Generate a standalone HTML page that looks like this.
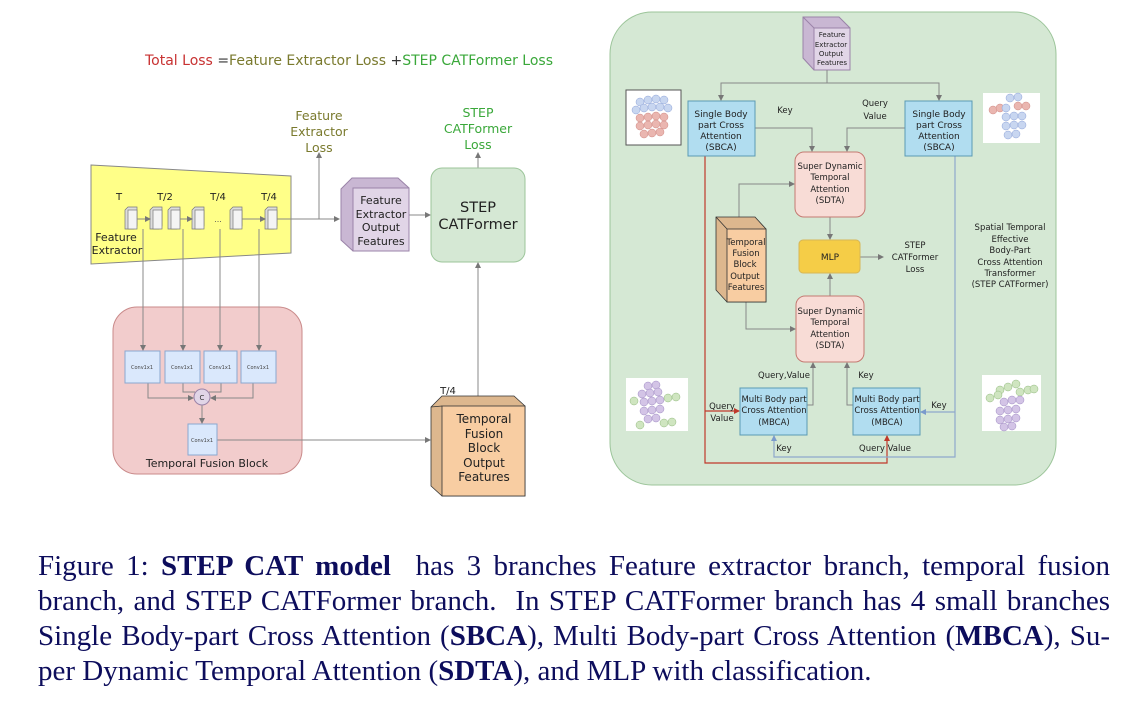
<!DOCTYPE html>
<html><head><meta charset="utf-8"><style>
html,body{margin:0;padding:0;background:#fff;width:1132px;height:716px;overflow:hidden}
svg{position:absolute;left:0;top:0}
svg text{font-family:"DejaVu Sans","Liberation Sans",sans-serif}
.cap{position:absolute;left:38px;width:1072px;font-family:"Liberation Serif",serif;font-size:29px;color:#0d0d5c;line-height:35px;white-space:nowrap}
.j{text-align:justify;text-align-last:justify}
</style></head><body>
<svg width="1132" height="716" viewBox="0 0 1132 716">
<defs>
<marker id="a" markerWidth="6" markerHeight="6" refX="5" refY="3" orient="auto" markerUnits="userSpaceOnUse"><path d="M0,0 L6,3 L0,6 z" fill="#777"/></marker>
<marker id="ar" markerWidth="6" markerHeight="6" refX="5" refY="3" orient="auto" markerUnits="userSpaceOnUse"><path d="M0,0 L6,3 L0,6 z" fill="#c0392b"/></marker>
<marker id="ab" markerWidth="6" markerHeight="6" refX="5" refY="3" orient="auto" markerUnits="userSpaceOnUse"><path d="M0,0 L6,3 L0,6 z" fill="#7a9acc"/></marker>
<g id="cube"><path d="M0,3 L3,0 L12,0 L12,19 L9,22 L0,22 z" fill="#ddd" stroke="#777" stroke-width="0.7"/><rect x="3" y="3" width="9" height="19" fill="#f4f4f4" stroke="#777" stroke-width="0.7"/></g>
</defs>

<text x="145" y="65" font-size="14"><tspan fill="#c83232">Total Loss </tspan><tspan fill="#333">=</tspan><tspan fill="#7a7a2e">Feature Extractor Loss </tspan><tspan fill="#333">+</tspan><tspan fill="#3aa83a">STEP CATFormer Loss</tspan></text>

<path d="M91,165 L291,176 L291,253 L91,264 z" fill="#ffff88" stroke="#888" stroke-width="1"/>
<g font-size="10" fill="#222" text-anchor="middle">
<text x="119" y="200">T</text><text x="165" y="200">T/2</text><text x="218" y="200">T/4</text><text x="269" y="200">T/4</text>
</g>
<text x="116" y="241" font-size="11" fill="#222" text-anchor="middle">Feature</text>
<text x="117" y="254" font-size="11" fill="#222" text-anchor="middle">Extractor</text>
<use href="#cube" x="125" y="207"/><use href="#cube" x="150" y="207"/><use href="#cube" x="168" y="207"/><use href="#cube" x="192" y="207"/><use href="#cube" x="230" y="207"/><use href="#cube" x="265" y="207"/>
<text x="218" y="222" font-size="8" fill="#555" text-anchor="middle">...</text>
<g stroke="#888" stroke-width="1" fill="none">
<path d="M137,219 L150,219" marker-end="url(#a)"/><path d="M180,219 L192,219" marker-end="url(#a)"/><path d="M242,219 L265,219" marker-end="url(#a)"/>
<path d="M277,219 L339,219" marker-end="url(#a)"/>
<path d="M319,219 L319,153" marker-end="url(#a)"/>
<path d="M409,215 L430,215" marker-end="url(#a)"/>
<path d="M478,168 L478,153" marker-end="url(#a)"/>
</g>
<g font-size="12.5" fill="#7a7a2e" text-anchor="middle"><text x="319" y="120">Feature</text><text x="319" y="136">Extractor</text><text x="319" y="152">Loss</text></g>
<g font-size="12.5" fill="#3aa83a" text-anchor="middle"><text x="478" y="117">STEP</text><text x="478" y="133">CATFormer</text><text x="478" y="149">Loss</text></g>

<path d="M341,189 L352,178 L398,178 L409,188 L409,251 L353,251 L341,240 z" fill="#c9b7d3" stroke="#9a83a8"/>
<rect x="353" y="188" width="56" height="63" fill="#e1d5e7" stroke="#9a83a8"/>
<g font-size="11" fill="#222" text-anchor="middle"><text x="381" y="204">Feature</text><text x="381" y="218">Extractor</text><text x="381" y="231">Output</text><text x="381" y="245">Features</text></g>

<rect x="431" y="168" width="94" height="94" rx="11" fill="#d5e8d4" stroke="#9cc59a"/>
<text x="478" y="212" font-size="14.5" fill="#222" text-anchor="middle">STEP</text>
<text x="478" y="229" font-size="14.5" fill="#222" text-anchor="middle">CATFormer</text>

<rect x="113" y="307" width="189" height="167" rx="24" fill="#f2cccc" stroke="#c98a8a"/>
<g stroke="#888" stroke-width="1" fill="none">
<path d="M143,229 L143,350" marker-end="url(#a)"/><path d="M183,229 L183,350" marker-end="url(#a)"/><path d="M220,229 L220,350" marker-end="url(#a)"/><path d="M259,229 L259,350" marker-end="url(#a)"/>
<path d="M148,383 L148,398 L193,398" marker-end="url(#a)"/><path d="M183,383 L183,392 L195,392"/><path d="M221,383 L221,392 L209,392"/><path d="M253,383 L253,398 L211,398" marker-end="url(#a)"/>
<path d="M202,405 L202,423" marker-end="url(#a)"/>
<path d="M217,440 L430,440" marker-end="url(#a)"/>
<path d="M478,396 L478,263" marker-end="url(#a)"/>
</g>
<g fill="#dae8fc" stroke="#8aa8d0"><rect x="125" y="351" width="35" height="32"/><rect x="165" y="351" width="35" height="32"/><rect x="204" y="351" width="33" height="32"/><rect x="241" y="351" width="35" height="32"/><rect x="188" y="424" width="29" height="31"/></g>
<g font-size="5" fill="#444" text-anchor="middle"><text x="142" y="369">Conv1x1</text><text x="182" y="369">Conv1x1</text><text x="220" y="369">Conv1x1</text><text x="258" y="369">Conv1x1</text><text x="202" y="442">Conv1x1</text></g>
<circle cx="202" cy="397" r="8" fill="#e1d5e7" stroke="#9a83a8"/><text x="202" y="400" font-size="7" text-anchor="middle" fill="#333">C</text>
<text x="207" y="467" font-size="11" fill="#222" text-anchor="middle">Temporal Fusion Block</text>

<path d="M431,407 L442,396 L514,396 L525,406 L525,496 L442,496 L431,486 z" fill="#ddb78e" stroke="#333" stroke-width="0.8"/>
<rect x="442" y="406" width="83" height="90" fill="#f8cda2" stroke="#333" stroke-width="0.8"/>
<path d="M431,407 L442,406" stroke="#333" stroke-width="0.8"/>
<text x="448" y="394" font-size="10" fill="#222" text-anchor="middle">T/4</text>
<g font-size="12" fill="#222" text-anchor="middle"><text x="484" y="423">Temporal</text><text x="484" y="438">Fusion</text><text x="484" y="452">Block</text><text x="484" y="467">Output</text><text x="484" y="481">Features</text></g>

<rect x="610" y="12" width="446" height="473" rx="42" fill="#d5e8d4" stroke="#9cc59a"/>
<path d="M803,17 L839,17 L850,28 L850,70 L814,70 L803,58 z" fill="#c9b7d3" stroke="#9a83a8"/>
<rect x="814" y="28" width="36" height="42" fill="#e1d5e7" stroke="#9a83a8"/>
<path d="M803,17 L814,28" stroke="#9a83a8"/>
<g font-size="7" fill="#222" text-anchor="middle"><text x="832" y="37">Feature</text><text x="831" y="47">Extractor</text><text x="831" y="56">Output</text><text x="832" y="65">Features</text></g>

<g stroke="#888" stroke-width="1" fill="none">
<path d="M827,70 L827,83 L721,83 L721,100" marker-end="url(#a)"/>
<path d="M827,83 L939,83 L939,100" marker-end="url(#a)"/>
<path d="M755,128 L812,128 L812,151" marker-end="url(#a)"/>
<path d="M905,128 L847,128 L847,151" marker-end="url(#a)"/>
<path d="M830,217 L830,239" marker-end="url(#a)"/>
<path d="M860,257 L883,257" marker-end="url(#a)"/>
<path d="M739,217 L739,184 L794,184" marker-end="url(#a)"/>
<path d="M746,302 L746,329 L795,329" marker-end="url(#a)"/>
<path d="M830,296 L830,274" marker-end="url(#a)"/>
<path d="M807,405 L813,405 L813,363" marker-end="url(#a)"/>
<path d="M853,405 L847,405 L847,363" marker-end="url(#a)"/>
</g>
<g stroke="#c0392b" stroke-width="1.2" fill="none">
<path d="M705,156 L705,463 L887,463 L887,436" marker-end="url(#ar)"/>
<path d="M705,411 L739,411" marker-end="url(#ar)"/>
</g>
<g stroke="#8fa8cc" stroke-width="1.2" fill="none">
<path d="M955,156 L955,457 L774,457 L774,436" marker-end="url(#ab)"/>
<path d="M955,412 L921,412" marker-end="url(#ab)"/>
</g>

<g fill="#b1ddf0" stroke="#5a9ab4"><rect x="688" y="101" width="67" height="55"/><rect x="905" y="101" width="67" height="55"/></g>
<g font-size="9" fill="#222" text-anchor="middle"><text x="721" y="117">Single Body</text><text x="721" y="128">part Cross</text><text x="721" y="139">Attention</text><text x="721" y="150">(SBCA)</text>
<text x="939" y="117">Single Body</text><text x="939" y="128">part Cross</text><text x="939" y="139">Attention</text><text x="939" y="150">(SBCA)</text></g>
<g fill="#f8dcd6" stroke="#c47a72"><rect x="795" y="152" width="70" height="65" rx="9"/><rect x="796" y="296" width="68" height="66" rx="9"/></g>
<g font-size="8.5" fill="#222" text-anchor="middle"><text x="830" y="169">Super Dynamic</text><text x="830" y="180">Temporal</text><text x="830" y="192">Attention</text><text x="830" y="203">(SDTA)</text>
<text x="830" y="314">Super Dynamic</text><text x="830" y="325">Temporal</text><text x="830" y="337">Attention</text><text x="830" y="348">(SDTA)</text></g>
<rect x="799" y="240" width="61" height="33" rx="4" fill="#f5cd47" stroke="#d6b656"/>
<text x="830" y="260" font-size="9" fill="#222" text-anchor="middle">MLP</text>
<g font-size="8.5" fill="#222" text-anchor="middle"><text x="915" y="248">STEP</text><text x="915" y="260">CATFormer</text><text x="915" y="272">Loss</text></g>
<path d="M716,217 L755,217 L766,229 L766,302 L727,302 L716,290 z" fill="#ddb78e" stroke="#333" stroke-width="0.8"/>
<rect x="727" y="229" width="39" height="73" fill="#f8cda2" stroke="#333" stroke-width="0.8"/>
<path d="M716,217 L727,229" stroke="#333" stroke-width="0.8"/>
<g font-size="8.5" fill="#222" text-anchor="middle"><text x="746" y="245">Temporal</text><text x="746" y="256">Fusion</text><text x="745" y="267">Block</text><text x="745" y="279">Output</text><text x="746" y="290">Features</text></g>

<g fill="#b1ddf0" stroke="#5a9ab4"><rect x="740" y="388" width="67" height="47"/><rect x="853" y="388" width="67" height="47"/></g>
<g font-size="8.5" fill="#222" text-anchor="middle"><text x="774" y="402">Multi Body part</text><text x="774" y="413">Cross Attention</text><text x="774" y="425">(MBCA)</text>
<text x="887" y="402">Multi Body part</text><text x="887" y="413">Cross Attention</text><text x="887" y="425">(MBCA)</text></g>

<g font-size="8.5" fill="#222" text-anchor="middle">
<text x="785" y="113">Key</text><text x="875" y="106">Query</text><text x="875" y="119">Value</text>
<text x="784" y="378">Query,Value</text><text x="866" y="378">Key</text>
<text x="722" y="409">Query</text><text x="722" y="421">Value</text><text x="939" y="408">Key</text>
<text x="784" y="451">Key</text><text x="885" y="451">Query Value</text>
</g>
<g font-size="8.5" fill="#222" text-anchor="middle"><text x="1010" y="230">Spatial Temporal</text><text x="1010" y="242">Effective</text><text x="1010" y="253">Body-Part</text><text x="1010" y="265">Cross Attention</text><text x="1010" y="276">Transformer</text><text x="1010" y="287">(STEP CATFormer)</text></g>

<rect x="626" y="90" width="55" height="55" fill="#fff" stroke="#555"/>
<g fill="#c8d6f0" stroke="#8fa4d8" stroke-width="0.5"><circle cx="640" cy="102" r="4"/><circle cx="648" cy="100" r="4"/><circle cx="656" cy="99" r="4"/><circle cx="664" cy="100" r="4"/><circle cx="636" cy="110" r="4"/><circle cx="644" cy="108" r="4"/><circle cx="652" cy="107" r="4"/><circle cx="660" cy="107" r="4"/><circle cx="668" cy="108" r="4"/></g>
<g fill="#eab6b0" stroke="#d08a84" stroke-width="0.5"><circle cx="640" cy="118" r="4"/><circle cx="648" cy="117" r="4"/><circle cx="656" cy="116" r="4"/><circle cx="664" cy="117" r="4"/><circle cx="640" cy="126" r="4"/><circle cx="648" cy="125" r="4"/><circle cx="656" cy="124" r="4"/><circle cx="664" cy="125" r="4"/><circle cx="644" cy="134" r="4"/><circle cx="652" cy="133" r="4"/><circle cx="660" cy="132" r="4"/></g>
<rect x="983" y="93" width="57" height="50" fill="#fff"/>
<g fill="#eab6b0" stroke="#d08a84" stroke-width="0.5"><circle cx="993" cy="110" r="4"/><circle cx="1000" cy="108" r="4"/><circle cx="1018" cy="106" r="4"/><circle cx="1026" cy="106" r="4"/></g>
<g fill="#c8d6f0" stroke="#8fa4d8" stroke-width="0.5"><circle cx="1010" cy="98" r="4"/><circle cx="1018" cy="97" r="4"/><circle cx="1006" cy="108" r="4"/><circle cx="1006" cy="117" r="4"/><circle cx="1014" cy="116" r="4"/><circle cx="1022" cy="116" r="4"/><circle cx="1006" cy="126" r="4"/><circle cx="1014" cy="125" r="4"/><circle cx="1022" cy="125" r="4"/><circle cx="1008" cy="135" r="4"/><circle cx="1016" cy="134" r="4"/></g>
<rect x="626" y="378" width="62" height="53" fill="#fff"/>
<g fill="#d3c4e6" stroke="#a08cc4" stroke-width="0.5"><circle cx="648" cy="386" r="4"/><circle cx="656" cy="385" r="4"/><circle cx="642" cy="394" r="4"/><circle cx="650" cy="393" r="4"/><circle cx="658" cy="392" r="4"/><circle cx="644" cy="402" r="4"/><circle cx="652" cy="401" r="4"/><circle cx="660" cy="400" r="4"/><circle cx="644" cy="411" r="4"/><circle cx="652" cy="410" r="4"/><circle cx="660" cy="409" r="4"/><circle cx="648" cy="419" r="4"/><circle cx="656" cy="418" r="4"/></g>
<g fill="#cfe5c0" stroke="#94bb80" stroke-width="0.5"><circle cx="634" cy="401" r="4"/><circle cx="668" cy="398" r="4"/><circle cx="676" cy="397" r="4"/><circle cx="640" cy="425" r="4"/><circle cx="664" cy="423" r="4"/><circle cx="672" cy="422" r="4"/></g>
<rect x="982" y="375" width="59" height="56" fill="#fff"/>
<g fill="#cfe5c0" stroke="#94bb80" stroke-width="0.5"><circle cx="1000" cy="390" r="4"/><circle cx="1008" cy="387" r="4"/><circle cx="1016" cy="384" r="4"/><circle cx="990" cy="398" r="4"/><circle cx="998" cy="395" r="4"/><circle cx="1020" cy="392" r="4"/><circle cx="1028" cy="390" r="4"/><circle cx="1034" cy="389" r="4"/></g>
<g fill="#d3c4e6" stroke="#a08cc4" stroke-width="0.5"><circle cx="1004" cy="402" r="4"/><circle cx="1012" cy="400" r="4"/><circle cx="1020" cy="400" r="4"/><circle cx="1000" cy="411" r="4"/><circle cx="1008" cy="410" r="4"/><circle cx="1016" cy="409" r="4"/><circle cx="1000" cy="420" r="4"/><circle cx="1008" cy="419" r="4"/><circle cx="1016" cy="418" r="4"/><circle cx="1004" cy="427" r="4"/><circle cx="1012" cy="426" r="4"/></g>
</svg>

<div class="cap j" style="top:549px">Figure 1: <b>STEP CAT model</b>&nbsp; has 3 branches Feature extractor branch, temporal fusion</div>
<div class="cap j" style="top:584px">branch, and STEP CATFormer branch. &nbsp;In STEP CATFormer branch has 4 small branches</div>
<div class="cap j" style="top:619px">Single Body-part Cross Attention (<b>SBCA</b>), Multi Body-part Cross Attention (<b>MBCA</b>), Su-</div>
<div class="cap" style="top:654px">per Dynamic Temporal Attention (<b>SDTA</b>), and MLP with classification.</div>
</body></html>
